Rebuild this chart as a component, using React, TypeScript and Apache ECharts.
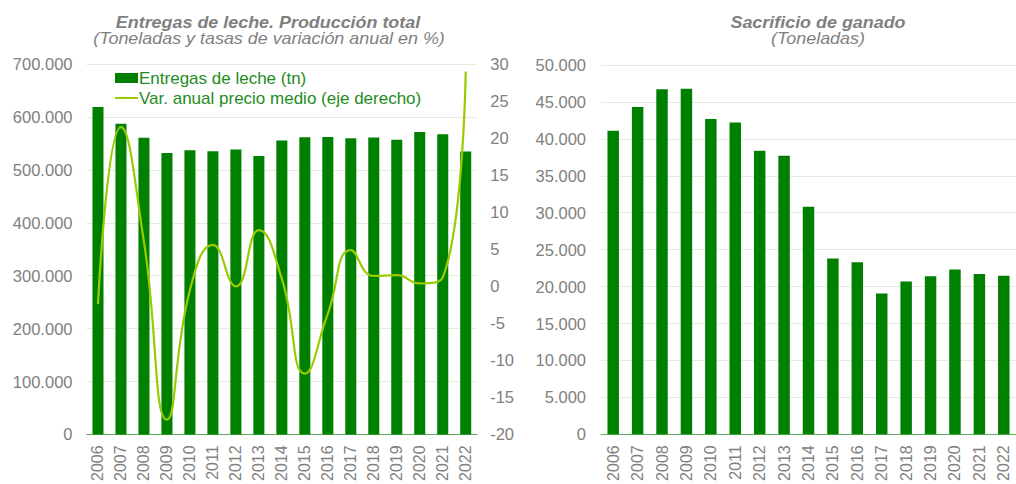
import React, { useEffect, useRef } from "react";
import * as echarts from "echarts";

const years = ["2006","2007","2008","2009","2010","2011","2012","2013","2014","2015","2016","2017","2018","2019","2020","2021","2022"];
const entregasLeche = [619000, 587500, 561000, 532000, 537500, 535500, 538500, 526500, 555500, 562000, 562500, 560000, 561500, 557000, 572000, 567500, 535000];
const varPrecio = [-2.4, 21.5, 6, -18, -0.5, 5.6, 0, 7.6, 1, -11.8, -3.7, 4.9, 1.4, 1.5, 0.4, 1.2, 29];
const sacrificio = [41100, 44300, 46700, 46800, 42700, 42200, 38400, 37700, 30800, 23800, 23300, 19050, 20700, 21400, 22300, 21700, 21450];

const leftTitle = "Entregas de leche. Producción total";
const leftSub = "(Toneladas y tasas de variación anual en %)";
const rightTitle = "Sacrificio de ganado";
const rightSub = "(Toneladas)";
const barName = "Entregas de leche (tn)";
const lineName = "Var. anual precio medio (eje derecho)";

const FONT = "'Liberation Sans', Arial, sans-serif";
const GRAY = "#808080";
const BAR = "#008000";
const LINE = "#99cc00";
const GRID = "#e3efdc";
const AXIS = "#5cae5c";
const LINE_ICON = "path://M0,0L0.01,0L0,0.01Z M0,4L23,4L23,6L0,6Z M23,10L22.99,10L23,9.99Z";

const fmt = (v: number) => String(v).replace(/\B(?=(\d{3})+(?!\d))/g, ".");

export default function App() {
  const ref = useRef<HTMLDivElement>(null);
  useEffect(() => {
    document.body.style.margin = "0";
    const chart = echarts.init(ref.current!, null, { renderer: "svg" });
    const axisLabelBase = { color: GRAY, fontSize: 16, fontFamily: FONT };
    const titleText = (text: string, x: number, y: number, bold: boolean) => ({
      type: "text", x, y, scaleX: 1.12, scaleY: 1,
      style: {
        text, fill: "#7f7f7f",
        font: `italic ${bold ? "bold " : ""}16px ${FONT}`,
        textAlign: "center", textVerticalAlign: "middle",
      },
    });
    chart.setOption({
      animation: false,
      textStyle: { fontFamily: FONT },
      grid: [
        { left: 86.5, top: 64.2, width: 390.7, height: 374.1 },
        { left: 601, top: 65, width: 425, height: 369.3 },
      ],
      legend: {
        orient: "vertical",
        left: 115,
        top: 69.5,
        padding: 0,
        itemWidth: 23,
        itemHeight: 10,
        itemGap: 3,
        textStyle: { color: "#1e8c1e", fontSize: 17, fontFamily: FONT, padding: [0, 0, 0, -4] },
        data: [
          { name: barName, icon: "rect" },
          { name: lineName, icon: LINE_ICON },
        ],
      },
      graphic: [
        titleText(leftTitle, 268, 23, true),
        titleText(leftSub, 269, 39, false),
        titleText(rightTitle, 818, 23, true),
        titleText(rightSub, 818, 39, false),
      ],
      xAxis: [
        {
          type: "category", gridIndex: 0, data: years,
          axisLine: { lineStyle: { color: AXIS, width: 1 } },
          axisTick: { show: false },
          axisLabel: { ...axisLabelBase, rotate: 90, margin: 11, interval: 0 },
        },
        {
          type: "category", gridIndex: 1, data: years,
          axisLine: { lineStyle: { color: AXIS, width: 1 } },
          axisTick: { show: false },
          axisLabel: { ...axisLabelBase, rotate: 90, margin: 11, interval: 0 },
        },
      ],
      yAxis: [
        {
          type: "value", gridIndex: 0, min: 0, max: 700000, interval: 100000,
          axisLine: { show: false }, axisTick: { show: false },
          splitLine: { lineStyle: { color: GRID, width: 1 } },
          axisLabel: { ...axisLabelBase, fontSize: 16.5, margin: 14, formatter: (v: number) => fmt(v) },
        },
        {
          type: "value", gridIndex: 0, position: "right", min: -20, max: 30, interval: 5,
          axisLine: { show: false }, axisTick: { show: false },
          splitLine: { show: false },
          axisLabel: { ...axisLabelBase, fontSize: 16.5, margin: 13 },
        },
        {
          type: "value", gridIndex: 1, min: 0, max: 50000, interval: 5000,
          axisLine: { show: false }, axisTick: { show: false },
          splitLine: { lineStyle: { color: GRID, width: 1 } },
          axisLabel: { ...axisLabelBase, fontSize: 16.5, margin: 15, formatter: (v: number) => fmt(v) },
        },
      ],
      series: [
        {
          name: barName, type: "bar", xAxisIndex: 0, yAxisIndex: 0, data: entregasLeche,
          barWidth: "48%", itemStyle: { color: BAR },
        },
        {
          name: lineName, type: "line", xAxisIndex: 0, yAxisIndex: 1, data: varPrecio,
          smooth: 0.5, symbol: "none", lineStyle: { color: LINE, width: 2.2 }, itemStyle: { color: LINE },
        },
        {
          name: "Sacrificio de ganado", type: "bar", xAxisIndex: 1, yAxisIndex: 2, data: sacrificio,
          barWidth: "47%", itemStyle: { color: BAR },
        },
      ],
    });
    return () => chart.dispose();
  }, []);
  return <div ref={ref} style={{ width: 1016, height: 484 }} />;
}
